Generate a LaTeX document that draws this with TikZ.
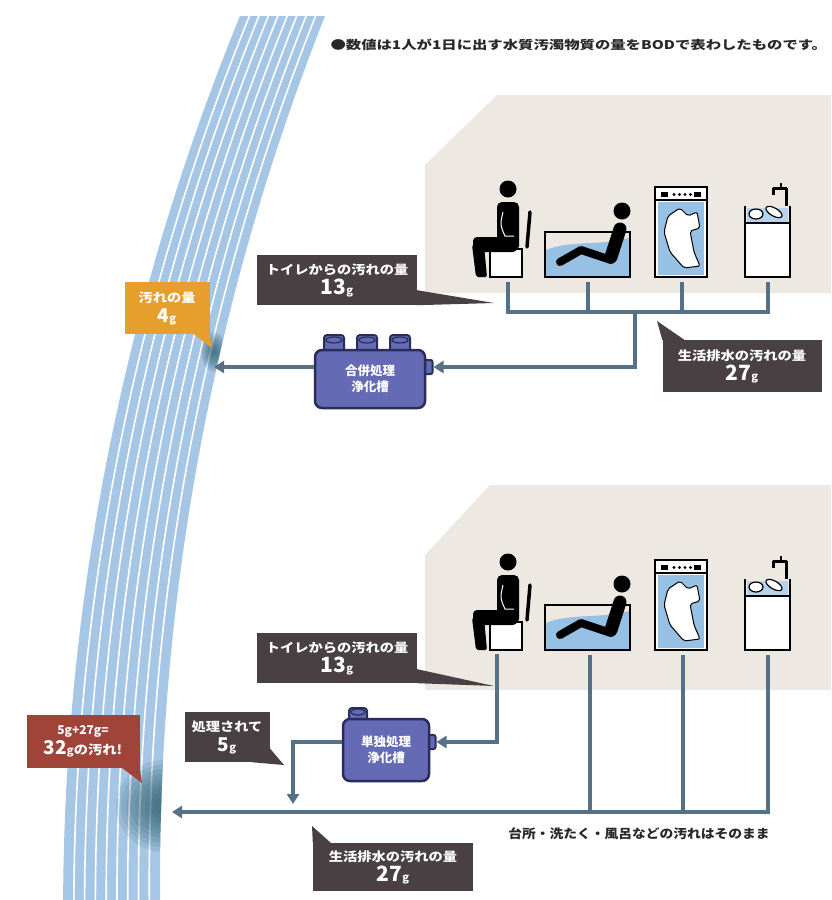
\documentclass[tikz,border=0pt]{standalone}
\usepackage{fontspec}
\usepackage{graphicx}
\newfontfamily\jp{Noto Sans CJK JP}
\usetikzlibrary{arrows.meta,calc}

\definecolor{housebg}{RGB}{237,232,225}
\definecolor{labeldark}{RGB}{72,64,66}
\definecolor{labelorange}{RGB}{230,158,45}
\definecolor{labelred}{RGB}{160,68,58}
\definecolor{pipecol}{RGB}{86,112,134}
\definecolor{tankfill}{RGB}{100,106,180}
\definecolor{tankline}{RGB}{42,44,92}
\definecolor{riverblue}{RGB}{166,198,230}
\definecolor{water}{RGB}{150,192,228}
\definecolor{spotcol}{RGB}{28,80,92}
\definecolor{textdark}{RGB}{40,40,40}

% label text helpers
\newcommand\lbl[1]{{\fontsize{12.5}{15}\selectfont\scalebox{1.14}[1]{#1}}}
\newcommand\amt[2][21]{{\fontsize{#1}{#1}\selectfont #2}{\fontsize{11}{11}\selectfont g}}

% the four fixtures: toilet, bathtub, washing machine, sink
\newcommand\fixtures{%
  % toilet with seated figure
  \filldraw[fill=white,draw=black,line width=2.2pt] (490,249) rectangle (522,277);
  \draw[line width=3.5pt,line cap=round] (530,212) -- (527,247);
  \fill (508,189) circle (8.5);
  \fill[rounded corners=5pt] (497,202) rectangle (519,251);
  \fill[rounded corners=4pt] (473,237) rectangle (517,252);
  \fill[rounded corners=2pt] (472,245) -- (484,245) -- (487,277) -- (476,277) -- cycle;
  \draw[white,line width=1pt] (503,212) .. controls (500,225) .. (505,236) -- (514,236);
  % bathtub with reclining figure
  \fill[water] (546,250) .. controls (570,240) and (600,246) .. (629,238) -- (629,276) -- (546,276) -- cycle;
  \draw[line width=2.6pt] (545,232) rectangle (630,277);
  \fill (622,211) circle (8.5);
  \draw[line width=13pt,line cap=round] (620,229) -- (611,257);
  \draw[line width=8pt,line cap=round,line join=round] (611,260) -- (581,250) -- (560,262);
  % washing machine
  \filldraw[fill=white,line width=2.6pt] (655,187) rectangle (707,277);
  \fill[water] (658,202) rectangle (704,275);
  \draw[line width=2pt] (656,200) -- (706,200);
  \fill (661,191.5) rectangle (668,197);
  \fill (694,191.5) rectangle (701,197);
  \foreach \dx in {674,679.5,685,690.5} \fill (\dx,194.5) circle (1.6);
  \filldraw[fill=white,line width=1pt,rounded corners=2pt] (668,216) -- (680,208) -- (688,216) -- (697,212) -- (700,228) -- (690,231) -- (694,252) -- (700,266) -- (684,268) -- (670,252) -- (664,232) -- cycle;
  % sink with dishes
  \fill[water!70] (747,208) rectangle (788,223);
  \filldraw[fill=white,line width=1.2pt] (756,214) ellipse (7 and 5);
  \filldraw[fill=white,line width=1.2pt,rotate around={-30:(774,212)}] (774,212) ellipse (9 and 4);
  \draw[line width=2.6pt] (745,206) -- (745,223);
  \draw[line width=2.6pt] (790,206) -- (790,223);
  \filldraw[fill=white,line width=2.6pt] (745,223) rectangle (790,277);
  \draw[line width=3pt,line join=round] (786,206) -- (786,188) -- (773,188) -- (773,195);
  \draw[line width=2.5pt] (781,183) -- (781,188);
}

\begin{document}
\begin{tikzpicture}[x=1pt,y=-1pt,
  declare function={
    rivR(\q)=2504.6-100*sqrt(549.715-((880-\q)/100)^2);
    rivW(\q)=85+12*(\q-16)/884;
    rivL(\q)=rivR(\q)-rivW(\q);
  },
  pipe/.style={draw=pipecol,line width=4.5pt},
  flow/.style={pipe,-{Triangle[length=10pt,width=12pt]}},
  boxtext/.style={inner sep=0pt,align=center,font=\jp\bfseries\fontsize{12.5}{20}\selectfont},
  darkbox/.style={boxtext,fill=labeldark,text=white},
  tank/.style={draw=tankline,fill=tankfill,line width=2.5pt,rounded corners=7pt,
    text=white,inner sep=0pt,align=center,font=\jp\bfseries\fontsize{12.5}{16}\selectfont},
  nub/.style={draw=tankline,fill=tankfill,line width=2pt,rounded corners=2pt,
    minimum width=9pt,minimum height=14pt,inner sep=0pt},
]
\useasboundingbox (0,0) rectangle (831,900);
\fill[white] (0,0) rectangle (831,900);

% river with white stripes
\def\riverpath{plot[domain=16:912,samples=45,variable=\yy] ({rivR(\yy)},\yy)
  -- plot[domain=912:16,samples=45,variable=\yy] ({rivL(\yy)},\yy) -- cycle}
\begin{scope}
  \clip (0,0) rectangle (831,900);
  \fill[riverblue] \riverpath;
  \foreach \t in {1,...,8}
    \draw[white,line width=1.6pt] plot[domain=16:912,samples=45,variable=\yy]
      ({rivL(\yy)+\t/9*rivW(\yy)},\yy);
  % polluted water where the outflow reaches the river
  \clip \riverpath;
  \foreach \s in {1,0.9,0.8,0.7,0.6,0.5,0.4,0.3,0.2}
    \fill[spotcol,opacity=0.1] (214,352) ellipse ({13*\s} and {20*\s});
  \foreach \s in {1,0.9,0.8,0.7,0.6,0.5,0.4,0.3,0.2}
    \fill[spotcol,opacity=0.11] (164,806) ellipse ({48*\s} and {46*\s});
\end{scope}

% houses
\fill[housebg] (425,165) -- (497,95) -- (831,95) -- (831,293) -- (425,293) -- cycle;
\fill[housebg] (425,555) -- (490,485) -- (831,485) -- (831,690) -- (425,690) -- cycle;

\fixtures
\begin{scope}[shift={(0,373)}]
  \fixtures
\end{scope}

% note
\node[anchor=west,text=textdark,font=\jp\bfseries\fontsize{12}{14}\selectfont] (note) at (327,45)
  {\scalebox{1.28}[1]{●数値は1人が1日に出す水質汚濁物質の量をBODで表わしたものです。}};

% ---------- upper house: combined treatment tank ----------
\coordinate (uT) at (508,282);
\coordinate (uB) at (588,282);
\coordinate (uW) at (682,282);
\coordinate (uS) at (768,282);
\coordinate (uJ) at (635,312);
\coordinate (spotA) at (214,367);
\draw[pipe] (uT) |- (uS |- uJ) -- (uS);
\draw[pipe] (uB) -- (uB |- uJ);
\draw[pipe] (uW) -- (uW |- uJ);

\foreach \cx in {334,367,400}{
  \filldraw[fill=tankfill,draw=tankline,line width=2pt,rounded corners=3pt] (\cx-10,335) rectangle (\cx+10,354);
  \draw[tankline,line width=1.2pt] (\cx,340) ellipse (8 and 3);
}
\node[nub] (nubA) at (428,367) {};
\node[tank,minimum width=110pt,minimum height=58pt] (tankA) at (370,379) {合併処理\\浄化槽};

\draw[flow] (uJ) |- (nubA.east);
\draw[flow] (tankA.west |- nubA) -- (spotA);

% ---------- lower house: toilet-only treatment tank ----------
\coordinate (lT) at (497,654);
\coordinate (lB) at (590,655);
\coordinate (lW) at (683,655);
\coordinate (lS) at (768,655);
\coordinate (spotB) at (172,812);
\coordinate (dropB) at (293,804);

\filldraw[fill=tankfill,draw=tankline,line width=2pt,rounded corners=3pt] (349,708) rectangle (367,726);
\draw[tankline,line width=1.2pt] (358,712) ellipse (7 and 3);
\node[nub] (nubB) at (431,742) {};
\node[tank,minimum width=86pt,minimum height=62pt] (tankB) at (386,750) {単独処理\\浄化槽};

\draw[flow] (lT) |- (nubB.east);
\draw[flow] (tankB.west |- nubB) -| (dropB);
\draw[flow] (lS) |- (spotB);
\draw[pipe] (lB) -- (lB |- spotB);
\draw[pipe] (lW) -- (lW |- spotB);

% ---------- callouts ----------
\node[darkbox,minimum width=160pt,minimum height=50pt] (t1) at (337,280)
  {\lbl{トイレからの汚れの量}\\\amt{13}};
\coordinate (t1tip) at (494,303);
\fill[labeldark] ([yshift=15pt]t1.south east) -- (t1tip) -- (t1.south east) -- cycle;

\node[boxtext,fill=labelorange,text=white,minimum width=85pt,minimum height=52pt] (o1) at (167,308)
  {\lbl{汚れの量}\\\amt[19]{4}};
\coordinate (o1tip) at (212,348);
\fill[labelorange] ([xshift=-16pt]o1.south east) -- (o1.south east) -- (o1tip) -- cycle;

\node[darkbox,minimum width=159pt,minimum height=52pt] (s1) at (742,366)
  {\lbl{生活排水の汚れの量}\\\amt{27}};
\coordinate (s1tip) at (657,321);
\fill[labeldark] (s1.north west) -- (s1tip) -- ([xshift=22pt]s1.north west) -- cycle;

\node[darkbox,minimum width=160pt,minimum height=50pt] (t2) at (337,658)
  {\lbl{トイレからの汚れの量}\\\amt{13}};
\coordinate (t2tip) at (494,686);
\fill[labeldark] ([yshift=14pt]t2.south east) -- (t2tip) -- (t2.south east) -- cycle;

\node[darkbox,minimum width=85pt,minimum height=50pt] (p2) at (227,737)
  {\lbl{処理されて}\\\amt[19]{5}};
\coordinate (p2tip) at (284,765);
\fill[labeldark] ([yshift=14pt]p2.south east) -- (p2tip) -- ([xshift=-18pt]p2.south east) -- cycle;

\node[darkbox,minimum width=160pt,minimum height=48pt] (s2) at (393,867)
  {\lbl{生活排水の汚れの量}\\\amt{27}};
\coordinate (s2tip) at (312,826);
\fill[labeldark] (s2.north west) -- (s2tip) -- ([xshift=18pt]s2.north west) -- cycle;

\node[boxtext,fill=labelred,text=white,minimum width=113pt,minimum height=53pt] (r2) at (83,741)
  {{\fontsize{12}{12}\selectfont 5g+27g=}\\{\fontsize{19}{19}\selectfont 32}{\fontsize{11}{11}\selectfont g}\lbl{の汚れ!}};
\coordinate (r2tip) at (142,783);
\fill[labelred] ([xshift=-18pt]r2.south east) -- (r2.south east) -- (r2tip) -- cycle;

\node[text=textdark,font=\jp\bfseries\fontsize{12.5}{14}\selectfont] (rest) at (639,834)
  {\scalebox{1.1}[1]{台所・洗たく・風呂などの汚れはそのまま}};
\end{tikzpicture}
\end{document}
